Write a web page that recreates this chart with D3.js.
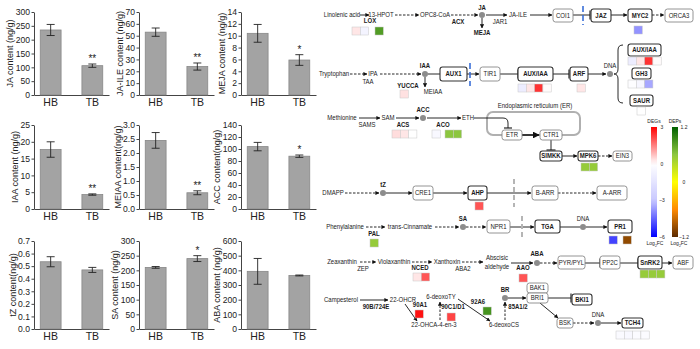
<!DOCTYPE html>
<html><head><meta charset="utf-8">
<script src="https://cdn.jsdelivr.net/npm/d3@7"></script>
<style>body{margin:0;background:#fff}svg{display:block}text{font-family:"Liberation Sans",Arial,sans-serif}</style>
</head><body><svg id="c" width="700" height="349"></svg>
<script>
// ---------- bar chart data ----------
const hormones = ["JA","JA-ILE","MEJA","IAA","MEIAA","ACC","tZ","SA","ABA"];
const yLabels = ["JA content (ng/g)","JA-ILE content (ng/g)","MEJA content (ng/g)","IAA content (ng/g)","MEIAA content(ng/g)","ACC content(ng/g)","tZ content(ng/g)","SA content (ng/g)","ABA content (ng/g)"];
const groups = ["HB","TB"];
const hbValues = [235,53,10.4,17.7,2.45,104,0.535,210,393];
const hbErrors = [20,3.5,1.5,2.3,0.28,7,0.04,3,88];
const tbValues = [106,24,5.9,4.3,0.58,88,0.47,240,365];
const tbErrors = [6,3,0.9,0.2,0.07,2,0.02,10,3];
const tbSignif = ["**","**","*","**","**","*","","*",""];
const yMax = [300,70,14,25,3,140,0.7,300,600];
const yStep = [50,10,2,5,0.5,20,0.1,50,100];

// ---------- pathway data ----------
const pathLabels = [
 ["Linolenic acid",342,15,0],["13-HPOT",381,15,0],["OPC8-CoA",435,15,0],["LOX",370,21,1],
 ["ACX",458,22,1],["JA",482,8,1],["MEJA",482,33,1],["JAR1",500,22,0],["JA-ILE",518,15,0],
 ["Tryptophan",334,74,0],["IPA",373,74,0],["TAA",368,82,0],["IAA",425,66,1],["YUCCA",408,86,1],
 ["MEIAA",433,92,0],["DNA",610,66,0],
 ["Methionine",342,118,0],["SAM",388,118,0],["SAMS",367,125,0],["ACC",423,110,1],["ACS",403,125,1],
 ["ACO",443,125,1],["ETH",468,118,0],["Endoplasmic reticulum (ER)",535,106,0],
 ["DMAPP",333,193,0],["tZ",383,185,1],
 ["Phenylalanine",345,227,0],["trans-Cinnamate",410,227,0],["SA",463,219,1],["PAL",374,234,1],["DNA",583,219,0],
 ["Zeaxanthin",342,262,0],["ZEP",363,269,0],["Violaxanthin",394,262,0],["Xanthoxin",447,262,0],["ABA2",463,269,0],
 ["Abscisic",497,258,0],["aldehyde",497,267,0],["NCED",420,268,1],["ABA",537,254,1],["AAO",523,268,1],
 ["Campesterol",341,300,0],["22-OHCR",403,300,0],["90B/724E",376,307,1],["22-OHCA-4-en-3",434,325,0],
 ["90A1",420,305,1],["6-deoxoTY",441,297,0],["90C1/D1",453,307,1],["6-deoxoCS",504,325,0],["92A6",478,302,1],
 ["BR",505,290,1],["85A1/2",518,307,1],["DNA",598,315,0]
];
const pathBoxes = [
 ["COI1",553,9,20,13,0],["JAZ",591,9,20,13,1],["MYC2",628,9,24,13,1],["ORCA3",665,9,28,13,0],
 ["AUX1",440,67,27,14,1],["TIR1",480,67,20,14,0],["AUX/IAA",518,67,35,14,1],["ARF",570,67,18,14,1],
 ["AUX/IAA",628,44,33,12,1],["GH3",632,68,19,11,1],["SAUR",630,95,23,11,1],
 ["ETR",502,130,20,10,0],["CTR1",540,130,22,10,0],["SIMKK",540,151,22,10,1],["MPK6",578,151,20,10,1],["EIN3",613,151,19,10,0],
 ["CRE1",413,186,20,14,0],["AHP",468,186,19,14,1],["B-ARR",532,186,26,14,0],["A-ARR",597,186,30,14,0],
 ["NPR1",487,220,23,13,0],["TGA",535,220,25,13,1],["PR1",608,220,24,13,1],
 ["PYR/PYL",558,256,27,13,0],["PP2C",600,256,20,13,0],["SnRK2",638,256,24,13,1],["ABF",673,256,20,13,0],
 ["BAK1",527,283,21,10,0],["BRI1",527,293,21,10,0],["BKI1",572,294,20,11,1],["BSK",557,318,16,10,0],["TCH4",622,318,21,10,1]
];
const pathNodes = [[482,15],[425,74],[610,74],[423,118],[383,193],[463,227],[583,227],[537,263],[505,298],[598,323]];
const pathLinks = [
 [360,15,369,15,"a"],[395,15,419,15,"d"],[451,15,478,15,"d"],[482,18,482,28,"a"],[486,15,507,15,"a"],
 [530,15,552,15,"a"],[573,15,590,15,"t"],[611,15,627,15,"a"],[652,15,664,15,"d"],
 [350,74,367,74,"d"],[380,74,421,74,"d"],[425,77,425,87,"a"],[428,74,440,74,"l"],[467,74,479,74,"a"],
 [500,74,518,74,"t"],[553,74,569,74,"t"],[588,74,606,74,"a"],
 [359,118,380,118,"a"],[396,118,419,118,"a"],[427,118,461,118,"a"],[522,135,539,135,"a"],[551,140,551,150,"t"],
 [562,156,577,156,"a"],[598,156,612,156,"d"],
 [345,193,379,193,"d"],[386,193,412,193,"a"],[433,193,467,193,"a"],[487,193,531,193,"a"],[558,193,596,193,"d"],
 [366,227,385,227,"d"],[435,227,459,227,"d"],[466,227,486,227,"d"],[510,227,534,227,"a"],[560,227,580,227,"l"],[586,227,607,227,"a"],
 [360,262,376,262,"d"],[412,262,432,262,"d"],[462,262,483,262,"d"],[511,263,533,263,"a"],[540,263,557,263,"d"],
 [585,263,600,263,"t"],[620,263,638,263,"t"],[662,263,672,263,"a"],
 [360,300,388,300,"a"],[405,304,417,321,"a"],[440,320,440,302,"d"],[458,299,490,321,"a"],[505,320,505,302,"d"],
 [508,298,526,298,"a"],[548,298,571,298,"t"],[540,303,558,318,"a"],[573,323,594,323,"d"],[601,323,621,323,"a"]
];
const dividers = [[583,6,25,"#3a6fd8"],[470,63,86,"#3a6fd8"],[514,179,207,"#b5b5b5"],[522,216,238,"#b5b5b5"]];
const heatGroups = [
 [352,27,"DEG",[0.3,-0.6]],[375,27,"DEP",[0.85]],[634,26,"DEG",[-3.8]],
 [400,90,"DEG",[0.35]],[518,84,"DEG",[-1.0,0.3,2.4,0.05]],[577,84,"DEG",[0.3]],
 [628,57,"DEG",[-1.0,0.3,2.4,0.05]],[628,80,"DEG",[-0.1,-0.5,-3.5]],[637,107,"DEG",[0]],
 [392,130,"DEG",[0.4,0.3,0]],[432,130,"DEG",[-0.4]],[445,130,"DEP",[0.6,0.6]],[581,163,"DEP",[0.55,0.55]],
 [475,202,"DEG",[2.0]],[370,239,"DEP",[0.55]],[609,236,"DEG",[-5]],[623,236,"DEP",[-1.0]],
 [413,273,"DEG",[0.3,2.0]],[519,274,"DEG",[2.0]],[640,270,"DEP",[0.55,0.55,0.55]],
 [415,310,"DEG",[2.8]],[447,313,"DEG",[2.2]],[483,307,"DEP",[0.9]],[616,331,"DEG",[-0.3,-0.4,-0.2,-0.2]]
];
const degTicks = [3,0,-3,-6];
const depTicks = [1.2,0,-1.2];

// ---------- drawing ----------
const svg = d3.select("#c");
svg.append("rect").attr("width",700).attr("height",349).attr("fill","#fff");
const colX=[34,139,241], rowTop=[12,125,241], rowBot=[95,209,329];

hormones.forEach((h,i)=>{
  const c=i%3, r=Math.floor(i/3), x0=colX[c];
  const x=d3.scaleBand().domain(groups).range([x0,x0+75]).paddingInner(0.5).paddingOuter(0.15);
  const y=d3.scaleLinear().domain([0,yMax[i]]).range([rowBot[r],rowTop[r]]);
  const g=svg.append("g");
  const ticks=d3.range(0,yMax[i]+yStep[i]/2,yStep[i]);
  const fmt=yStep[i]<1?d3.format(".1f"):d3.format("d");
  const ya=g.append("g").attr("transform",`translate(${x0},0)`)
    .call(d3.axisLeft(y).tickValues(ticks).tickFormat(fmt).tickSize(2.5).tickSizeOuter(0).tickPadding(1.5));
  const xa=g.append("g").attr("transform",`translate(0,${rowBot[r]})`)
    .call(d3.axisBottom(x).tickSize(0).tickPadding(4).tickSizeOuter(0));
  [ya,xa].forEach(a=>{a.selectAll("path,line").attr("stroke","#444");a.selectAll("text").attr("fill","#222").style("font-family","Liberation Sans, Arial");});
  ya.selectAll("text").attr("font-size",8.6);
  xa.selectAll("text").attr("font-size",10.5);
  let maxW=0; ya.selectAll("text").each(function(){maxW=Math.max(maxW,this.getComputedTextLength());});
  const vals=[hbValues[i],tbValues[i]], errs=[hbErrors[i],tbErrors[i]];
  groups.forEach((gname,j)=>{
    g.append("rect").attr("x",x(gname)).attr("y",y(vals[j])).attr("width",x.bandwidth())
      .attr("height",y(0)-y(vals[j])).attr("fill","#a3a3a3").attr("stroke","#888").attr("stroke-width",0.8);
    const cx=x(gname)+x.bandwidth()/2, t=y(vals[j]+errs[j]), b=y(vals[j]-errs[j]);
    g.append("line").attr("x1",cx).attr("x2",cx).attr("y1",t).attr("y2",b).attr("stroke","#222").attr("stroke-width",0.9);
    [t,b].forEach(yy=>g.append("line").attr("x1",cx-4).attr("x2",cx+4).attr("y1",yy).attr("y2",yy).attr("stroke","#222").attr("stroke-width",0.9));
    if(j===1&&tbSignif[i]) g.append("text").attr("x",cx).attr("y",t-2).attr("text-anchor","middle")
      .attr("font-size",10).attr("fill","#222").text(tbSignif[i]);
  });
  const lx=x0-4-maxW-5.5;
  g.append("text").attr("transform",`translate(${lx},${(rowTop[r]+rowBot[r])/2}) rotate(-90)`)
    .attr("text-anchor","middle").attr("dy","0.35em").attr("font-size",9).attr("fill","#222").text(yLabels[i]);
});

// pathway
const P=svg.append("g");
const defs=svg.append("defs");
defs.append("marker").attr("id","ah").attr("viewBox","0 0 10 10").attr("refX",9).attr("refY",5)
  .attr("markerWidth",4.5).attr("markerHeight",4.5).attr("orient","auto")
  .append("path").attr("d","M0,0L10,5L0,10z").attr("fill","#111");
const degColor=d3.scaleLinear().domain([-6,-3,0,3]).range(["#0000ff","#c8c8ff","#ffffff","#ff0000"]);
const depColor=d3.scaleLinear().domain([-1.2,-0.6,0,0.6,1.2]).range(["#5a2a00","#ff8a00","#ffff00","#8cc63f","#006000"]);
const SX=0.86;
function ptext(t,x,y,b,fs){
  return P.append("text").attr("transform",`translate(${x},${y}) scale(${SX},1)`).attr("dy","0.35em")
    .attr("text-anchor","middle").attr("font-size",fs||6.8).attr("font-weight",b?"bold":"normal").attr("fill","#1a1a1a").text(t);
}

P.append("rect").attr("x",487).attr("y",112).attr("width",93).attr("height",23).attr("rx",6)
  .attr("fill","none").attr("stroke","#b0b0b0").attr("stroke-width",2);
P.append("path").attr("d","M474,118H503Q508,118 508,123V128").attr("fill","none").attr("stroke","#111").attr("stroke-width",0.9);
P.append("line").attr("x1",504).attr("x2",512).attr("y1",128).attr("y2",128).attr("stroke","#111").attr("stroke-width",1.1);
P.append("path").attr("d","M623,45Q618,45 618,50V69Q618,74 614,74Q618,74 618,79V98Q618,103 623,103")
  .attr("fill","none").attr("stroke","#111").attr("stroke-width",0.9);

pathLinks.forEach(([x1,y1,x2,y2,k])=>{
  const l=P.append("line").attr("x1",x1).attr("y1",y1).attr("x2",x2).attr("y2",y2)
    .attr("stroke","#111").attr("stroke-width",k==="a"&&y1===135?1.5:0.9);
  if(k==="d"||k==="dl") l.attr("stroke-dasharray","2.5,1.5");
  if(k==="a"||k==="d") l.attr("marker-end","url(#ah)");
  if(k==="t"){
    const ang=Math.atan2(y2-y1,x2-x1), px=-Math.sin(ang)*4.5, py=Math.cos(ang)*4.5;
    P.append("line").attr("x1",x2+px).attr("y1",y2+py).attr("x2",x2-px).attr("y2",y2-py).attr("stroke","#111").attr("stroke-width",1.1);
  }
});
dividers.forEach(([x,y1,y2,col])=>{
  P.append("line").attr("x1",x).attr("x2",x).attr("y1",y1).attr("y2",y2).attr("stroke",col)
   .attr("stroke-width",col==="#b5b5b5"?2:1.6).attr("stroke-dasharray",col==="#b5b5b5"?"5,3":"6,3");
});
pathBoxes.forEach(([t,x,y,w,h,b])=>{
  P.append("rect").attr("x",x).attr("y",y).attr("width",w).attr("height",h).attr("rx",2.5)
    .attr("fill","#fff").attr("stroke",b?"#333":"#888").attr("stroke-width",b?1.1:0.9);
  ptext(t,x+w/2,y+h/2,b,7);
});
pathNodes.forEach(([x,y])=>P.append("circle").attr("cx",x).attr("cy",y).attr("r",3).attr("fill","#8c8c8c"));
pathLabels.forEach(([t,x,y,b])=>ptext(t,x,y,b,7));
heatGroups.forEach(([x,y,type,vals])=>{
  vals.forEach((v,k)=>{
    P.append("rect").attr("x",x+k*8.3).attr("y",y).attr("width",8.3).attr("height",8)
      .attr("fill",type==="DEG"?degColor(v):depColor(v)).attr("stroke","#c8c8c8").attr("stroke-width",0.5);
  });
});

function legend(id,x,scaleDom,colorScale,ticks,title,tickFmt,lx,ltx){
  const ys=d3.scaleLinear().domain(scaleDom).range([127,237]);
  const gr=defs.append("linearGradient").attr("id",id).attr("x1",0).attr("x2",0).attr("y1",0).attr("y2",1);
  d3.range(0,1.0001,0.05).forEach(o=>gr.append("stop").attr("offset",o).attr("stop-color",colorScale(ys.invert(127+o*110))));
  P.append("rect").attr("x",x).attr("y",127).attr("width",6).attr("height",110).attr("fill",`url(#${id})`);
  ptext(title,x+3,121,0,5.8);
  ticks.forEach(t=>ptext(tickFmt(t),lx,ys(t),0,5.8));
  const lt=P.append("text").attr("transform",`translate(${ltx},245) scale(${SX},1)`).attr("text-anchor","middle").attr("font-size",5.8).attr("fill","#222");
  lt.append("tspan").text("Log");
  lt.append("tspan").attr("font-size",4).attr("dy",1.5).text("2");
  lt.append("tspan").attr("dy",-1.5).text("FC");
}
legend("gDeg",651,[3,-6],degColor,degTicks,"DEGs",d=>d3.format("d")(d),662,655);
legend("gDep",672,[1.2,-1.2],depColor,depTicks,"DEPs",d=>d===0?"0":d3.format(".1f")(d),684,679);
</script></body></html>
